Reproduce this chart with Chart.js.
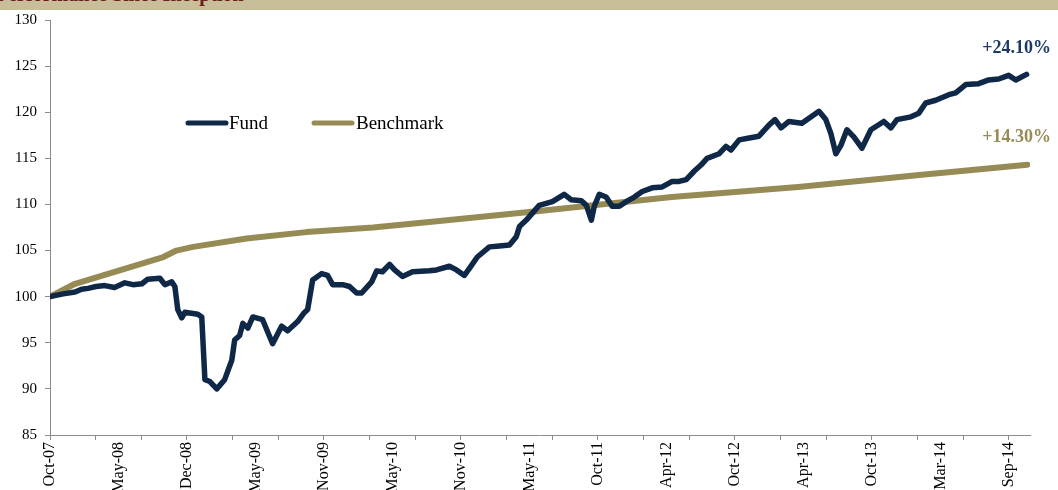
<!DOCTYPE html>
<html>
<head>
<meta charset="utf-8">
<script src="https://cdn.jsdelivr.net/npm/chart.js@4"></script>
<style>
  body { margin: 0; background: #fff; }
  #wrap { position: relative; width: 1058px; height: 490px; }
  #hdr { position: absolute; left: 0; top: 0; width: 1058px; height: 10px; background: #c8be99; overflow: hidden; }
  #hdr span { position: absolute; left: -4px; top: -17px; font: bold 20px "Liberation Serif", serif; color: #6e1d1d; white-space: nowrap; }
  canvas { position: absolute; left: 0; top: 0; }
</style>
</head>
<body>
<div id="wrap">
  <canvas id="perf" width="1058" height="490"></canvas>
  <div id="hdr"><span>Performance Since Inception</span></div>
</div>
<script>
// x values are weeks since inception (Oct-07), labels every 26 weeks
const tickLabels = ['Oct-07', 'May-08', 'Dec-08', 'May-09', 'Nov-09', 'May-10', 'Nov-10', 'May-11',
                    'Oct-11', 'Apr-12', 'Oct-12', 'Apr-13', 'Oct-13', 'Mar-14', 'Sep-14'];

const fundWeeks = [0, 5.0, 9.5, 12.0, 14.4, 17.5, 20.8, 24.5, 28.4, 31.5, 34.9, 37.1, 41.7, 43.6, 46.2, 47.4, 48.5, 50.0, 51.2, 56.1, 57.6,
  58.8, 60.7, 63.3, 66.3, 69.0, 70.1, 72.0, 73.2, 75.1, 77.0, 80.7, 84.5, 87.9, 90.2, 94.0, 96.3,
  97.8, 99.7, 103.1, 105.4, 107.3, 111.1, 113.7, 116.4, 118.3, 122.1, 124.0, 126.2, 128.9, 130.8, 133.8,
  137.6, 144.0, 146.7, 151.6, 154.3, 157.3, 160.0, 162.2, 166.8, 170.6, 174.4, 177.0, 178.2, 180.8,
  185.7, 190.7, 195.2, 197.9, 201.7, 203.6, 205.5, 206.6, 208.5, 211.1, 213.4, 216.1, 218.7, 221.8,
  224.8, 228.6, 232.4, 236.2, 238.8, 241.5, 244.5, 247.2, 249.4, 254.0, 256.6, 258.5, 261.6, 265.4,
  269.1, 272.9, 275.2, 277.5, 280.5, 285.4, 291.9, 294.5, 296.4, 298.3, 300.2, 302.5, 305.2, 308.2,
  311.6, 316.5, 319.2, 321.5, 326.8, 329.8, 332.4, 336.2, 341.2, 343.8, 347.6, 352.5, 356.3, 360.1,
  363.9, 366.6, 370.7];
const fundValues = [100.0, 100.3, 100.5, 100.8, 100.9, 101.1, 101.2, 101.0, 101.5, 101.3, 101.4, 101.9, 102.0, 101.3, 101.6, 101.1, 98.6, 97.7, 98.3, 98.1, 97.8,
  91.0, 90.8, 90.0, 91.0, 93.1, 95.3, 95.8, 97.1, 96.6, 97.8, 97.5, 94.9, 96.8, 96.3, 97.3, 98.2,
  98.6, 101.8, 102.5, 102.3, 101.3, 101.3, 101.1, 100.4, 100.4, 101.6, 102.8, 102.7, 103.5, 102.9, 102.2,
  102.7, 102.8, 102.9, 103.3, 102.9, 102.3, 103.4, 104.3, 105.4, 105.5, 105.6, 106.5, 107.6, 108.3,
  109.9, 110.3, 111.1, 110.5, 110.4, 109.9, 108.3, 109.8, 111.1, 110.8, 109.8, 109.8, 110.3, 110.8,
  111.4, 111.8, 111.9, 112.5, 112.5, 112.7, 113.6, 114.3, 115.0, 115.5, 116.3, 115.9, 117.0, 117.2,
  117.4, 118.6, 119.2, 118.3, 119.0, 118.8, 120.1, 119.2, 117.7, 115.5, 116.4, 118.1, 117.3, 116.1,
  118.1, 119.0, 118.3, 119.2, 119.5, 119.9, 121.0, 121.3, 121.9, 122.1, 123.0, 123.1, 123.5, 123.6,
  124.0, 123.5, 124.1];

const benchWeeks = [0, 9.5, 43.0, 48.0, 54.3, 74.6, 97.3, 122.6, 147.8, 185.7, 236.0, 284.0, 330.0, 371.0];
const benchValues = [100.0, 101.4, 104.3, 105.0, 105.4, 106.3, 107.0, 107.5, 108.2, 109.3, 110.8, 111.9, 113.2, 114.3];

const fundColor = '#0f2847';
const benchColor = '#978b55';
const serif = '"Liberation Serif", "Times New Roman", serif';

function toPoints(xs, ys) {
  return xs.map((x, i) => ({ x: x, y: ys[i] }));
}

// legend and end labels drawn on the canvas
const extras = {
  id: 'extras',
  afterDraw(chart) {
    const c = chart.ctx;
    c.save();
    c.lineCap = 'round';
    c.lineWidth = 5;
    c.strokeStyle = fundColor;
    c.beginPath(); c.moveTo(188, 123); c.lineTo(226, 123); c.stroke();
    c.strokeStyle = benchColor;
    c.beginPath(); c.moveTo(314, 123); c.lineTo(352, 123); c.stroke();
    c.fillStyle = '#000';
    c.font = '19px ' + serif;
    c.textBaseline = 'middle';
    c.fillText('Fund', 229, 124);
    c.fillText('Benchmark', 356, 124);

    c.font = 'bold 18px ' + serif;
    c.textAlign = 'right';
    c.fillStyle = '#1f3a62';
    c.fillText('+24.10%', 1051, 48);
    c.fillStyle = '#978b55';
    c.fillText('+14.30%', 1051, 137);
    c.restore();
  }
};

new Chart(document.getElementById('perf').getContext('2d'), {
  type: 'line',
  data: {
    datasets: [
      {
        label: 'Fund',
        data: toPoints(fundWeeks, fundValues),
        borderColor: fundColor,
        borderWidth: 5.5,
        pointRadius: 0,
        tension: 0,
        borderJoinStyle: 'round',
        borderCapStyle: 'round'
      },
      {
        label: 'Benchmark',
        data: toPoints(benchWeeks, benchValues),
        borderColor: benchColor,
        borderWidth: 6,
        pointRadius: 0,
        tension: 0,
        borderJoinStyle: 'round',
        borderCapStyle: 'round'
      }
    ]
  },
  options: {
    responsive: false,
    animation: false,
    layout: { padding: { top: 20, right: 28, left: 0, bottom: 0 } },
    plugins: {
      legend: { display: false },
      tooltip: { enabled: false }
    },
    scales: {
      x: {
        type: 'linear',
        min: 0,
        max: 372,
        afterBuildTicks(scale) {
          const t = [];
          for (let k = 0; k <= 42; k++) t.push({ value: k * 26 / 3 });
          scale.ticks = t;
        },
        afterFit(scale) { scale.height = 55; },
        border: { display: true, color: '#8c8c8c', width: 1 },
        grid: {
          drawOnChartArea: false,
          drawTicks: true,
          tickLength: 5,
          color: (ctx) => (ctx.index % 2 === 0 ? '#8c8c8c' : 'rgba(0,0,0,0)')
        },
        ticks: {
          autoSkip: false,
          maxRotation: 90,
          minRotation: 90,
          padding: 2,
          color: '#000',
          font: { family: serif, size: 16 },
          callback: (v, i) => (i % 3 === 0 ? tickLabels[i / 3] : '')
        }
      },
      y: {
        min: 85,
        max: 130,
        afterFit(scale) { scale.width = 50; },
        border: { display: true, color: '#8c8c8c', width: 1 },
        grid: { drawOnChartArea: false, drawTicks: true, tickLength: 5, color: '#8c8c8c' },
        ticks: {
          stepSize: 5,
          padding: 8,
          color: '#000',
          font: { family: serif, size: 15 }
        }
      }
    }
  },
  plugins: [extras]
});
</script>
</body>
</html>
